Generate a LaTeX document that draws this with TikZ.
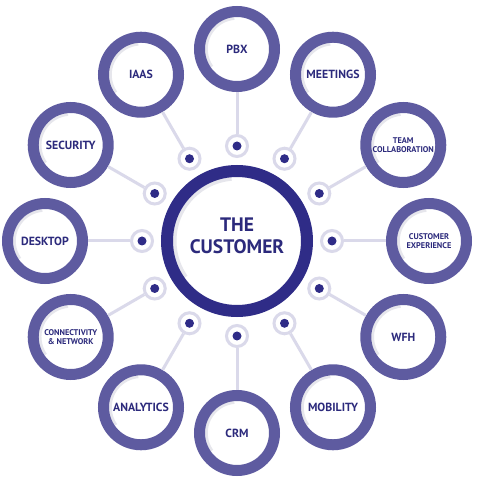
\documentclass[tikz,border=0pt]{standalone}
\usepackage{fontspec}
\setmainfont{PT Sans}
\definecolor{ringc}{HTML}{5E5BA0}
\definecolor{hubc}{HTML}{2F2C87}
\definecolor{txtc}{HTML}{2C2A7C}
\definecolor{linec}{HTML}{DAD9EA}
\definecolor{dotc}{HTML}{2F2C87}
\definecolor{shadc}{HTML}{E6E6EC}
\tikzset{
  sat/.style={circle, draw=ringc, line width=11pt, fill=white, minimum size=75pt, inner sep=0pt, align=center, text=txtc, font=\bfseries\fontsize{11.8}{12}\selectfont,
    path picture={\draw[shadc, line width=3.5pt] (path picture bounding box.center) ++(95:31) arc[start angle=95, end angle=215, radius=31];}},
  satsmall/.style={sat, font=\bfseries\fontsize{8.3}{9}\selectfont},
  hub/.style={circle, draw=hubc, line width=12pt, fill=white, minimum size=140pt, inner sep=0pt,
    path picture={\draw[shadc, line width=4pt] (path picture bounding box.center) ++(95:62.5) arc[start angle=95, end angle=215, radius=62.5];}},
  hubtext/.style={align=center, text=txtc, font=\bfseries\fontsize{19.5}{22}\selectfont},
  dotring/.style={circle, draw=linec, line width=3pt, fill=white, minimum size=21pt, inner sep=0pt},
  dotcore/.style={circle, fill=dotc, minimum size=9pt, inner sep=0pt},
  conn/.style={draw=linec, line width=3pt}
}
\begin{document}
\begin{tikzpicture}[x=1pt,y=1pt]
\useasboundingbox (0,0) rectangle (480,480);
\fill[white] (0,0) rectangle (480,480);
\begin{scope}[shift={(237,239)}]
\node[hub] (hub) at (0,0) {};
\node[hubtext] (hubt) at (0,5) {THE\\CUSTOMER};
\foreach \a/\n/\t/\s in {
  90/pbx/PBX/sat,
  60/meet/MEETINGS/sat,
  30/team/TEAM\\COLLABORATION/satsmall,
  0/cx/CUSTOMER\\EXPERIENCE/satsmall,
  -30/wfh/WFH/sat,
  -60/mob/MOBILITY/sat,
  -90/crm/CRM/sat,
  -120/ana/ANALYTICS/sat,
  -150/con/CONNECTIVITY\\\& NETWORK/satsmall,
  180/desk/DESKTOP/sat,
  150/sec/SECURITY/sat,
  120/iaas/IAAS/sat}{
  \node[\s] (\n) at (\a:192) {\t};
  \node[dotring] (d\n) at (\a:95) {};
  \draw[conn] (\n) -- (d\n);
  \node[dotcore] (c\n) at (d\n) {};
}
\end{scope}
\end{tikzpicture}
\end{document}
